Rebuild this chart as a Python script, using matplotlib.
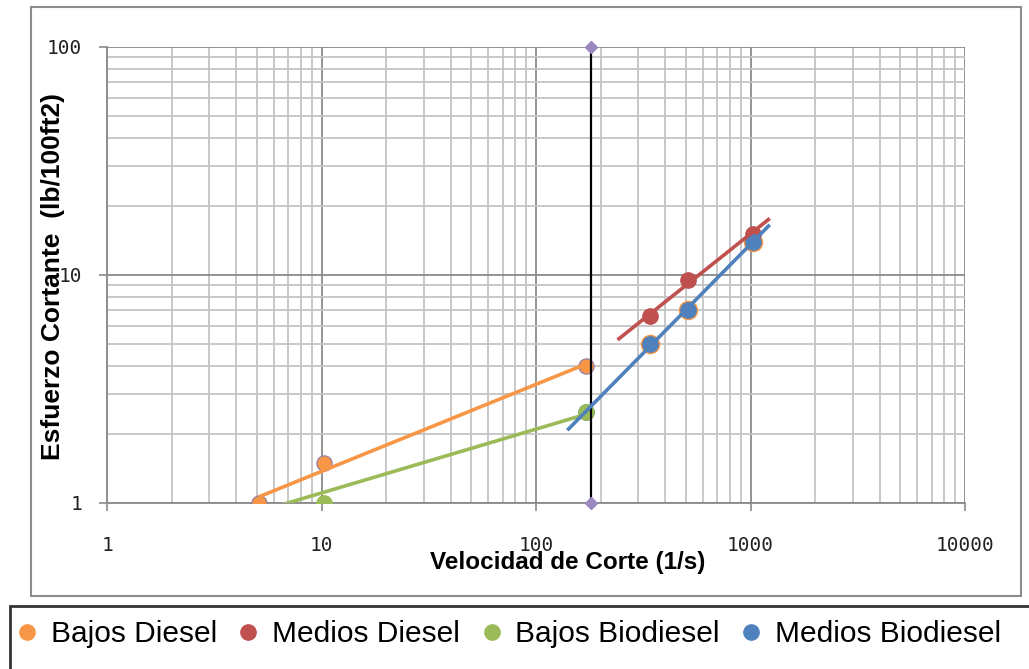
import numpy as np
import matplotlib.pyplot as plt
from matplotlib.lines import Line2D
from matplotlib.patches import Rectangle
from matplotlib.ticker import FixedLocator, FixedFormatter, NullFormatter

# datos (lecturas del viscosimetro)
bajos_diesel_x = [5.11, 10.22, 170.3]
bajos_diesel_y = [1.0, 1.5, 4.0]
bajos_diesel_extra_x = [340.6, 511.0, 1022.0]
bajos_diesel_extra_y = [5.0, 7.0, 14.0]

medios_diesel_x = [340.6, 511.0, 1022.0]
medios_diesel_y = [6.6, 9.5, 15.2]

bajos_bio_x = [5.11, 10.22, 170.3]
bajos_bio_y = [1.0, 1.0, 2.5]

medios_bio_x = [170.3, 340.6, 511.0, 1022.0]
medios_bio_y = [2.5, 5.0, 7.0, 14.0]

corte_x = [180.0, 180.0]
corte_y = [1.0, 100.0]

# rango de las lineas de tendencia
tend_bajos_diesel = [5.11, 170.3]
tend_medios_diesel = [240.0, 1230.0]
tend_bajos_bio = [5.11, 170.3]
tend_medios_bio = [140.0, 1230.0]

x_ticks = [1, 10, 100, 1000, 10000]
x_labels = ['1', '10', '100', '1000', '10000']
y_ticks = [1, 10, 100]
y_labels = ['1', '10', '100']

c_orange = '#F79646'
c_red = '#C0504D'
c_green = '#9BBB59'
c_blue = '#4F81BD'
c_purple = '#9A88C0'


def power_trend(x, y, rango):
    b, a = np.polyfit(np.log10(x), np.log10(y), 1)
    xs = np.logspace(np.log10(rango[0]), np.log10(rango[1]), 50)
    return xs, 10 ** (a + b * np.log10(xs))


fig = plt.figure(figsize=(10.29, 6.69), dpi=100)
W, H = 1029, 669
ax = fig.add_axes([107 / W, 1 - 503 / H, (965 - 107) / W, (503 - 47) / H])
ax.set_xscale('log')
ax.set_yscale('log')
ax.set_xlim(1, 10000)
ax.set_ylim(1, 100)

ax.grid(which='minor', color='#c4c4c4', lw=1.3, zorder=0)
ax.grid(which='major', color='#8a8a8a', lw=1.3, zorder=0)
ax.set_axisbelow(True)

ms = 11
ax.plot(bajos_diesel_extra_x, bajos_diesel_extra_y, 'o', color=c_orange, ms=ms + 2, zorder=3)
ax.plot(bajos_diesel_x, bajos_diesel_y, 'o', color=c_orange, ms=ms, mec='#8c7aae', mew=0.8, zorder=4)
ax.plot(medios_diesel_x, medios_diesel_y, 'o', color=c_red, ms=ms, zorder=4)
ax.plot(medios_bio_x, medios_bio_y, 'o', color=c_blue, ms=ms, zorder=4)
ax.plot(bajos_bio_x[1:], bajos_bio_y[1:], 'o', color=c_green, ms=ms, zorder=4)

ax.plot(corte_x, corte_y, color='black', lw=1.6, zorder=5, clip_on=False)
ax.plot(corte_x, corte_y, 'D', color=c_purple, ms=6, zorder=6, clip_on=False)

for x, y, r, c in [(bajos_diesel_x, bajos_diesel_y, tend_bajos_diesel, c_orange),
                   (medios_diesel_x, medios_diesel_y, tend_medios_diesel, c_red),
                   (bajos_bio_x, bajos_bio_y, tend_bajos_bio, c_green),
                   (medios_bio_x, medios_bio_y, tend_medios_bio, c_blue)]:
    xs, ys = power_trend(x, y, r)
    ax.plot(xs, ys, color=c, lw=2.6, zorder=5, solid_capstyle='butt')

ax.xaxis.set_major_locator(FixedLocator(x_ticks))
ax.xaxis.set_major_formatter(FixedFormatter(x_labels))
ax.yaxis.set_major_locator(FixedLocator(y_ticks))
ax.yaxis.set_major_formatter(FixedFormatter(y_labels))
ax.xaxis.set_minor_formatter(NullFormatter())
ax.yaxis.set_minor_formatter(NullFormatter())
ax.tick_params(which='major', direction='out', length=6, width=1.2, color='#8a8a8a',
               labelsize=14, labelcolor='#222222')
ax.tick_params(axis='x', which='major', pad=18)
ax.tick_params(axis='y', which='major', pad=12)
ax.tick_params(which='minor', length=0)
for lab in ax.get_xticklabels() + ax.get_yticklabels():
    lab.set_family('DejaVu Sans Mono')

for s in ['top', 'right']:
    ax.spines[s].set_visible(False)
for s in ['left', 'bottom']:
    ax.spines[s].set_color('#8a8a8a')
    ax.spines[s].set_linewidth(1.3)

ax.set_xlabel('Velocidad de Corte (1/s)', family='Liberation Sans', weight='bold',
              fontsize=17.5, va='center')
ax.xaxis.set_label_coords((568 - 107) / 858, (503 - 563) / 456)
ax.set_ylabel('Esfuerzo Cortante  (lb/100ft2)', family='Liberation Sans', weight='bold',
              fontsize=19, va='center')
ax.yaxis.set_label_coords((53 - 107) / 858, (503 - 276) / 456)

# marcos del grafico y de la leyenda
fig.patches.append(Rectangle((31 / W, 1 - 596 / H), (1021 - 31) / W, (596 - 7) / H,
                             transform=fig.transFigure, fill=False, ec='#8c8c8c', lw=1.5))
fig.patches.append(Rectangle((10 / W, -0.1), 1.1, 1 - 606 / H + 0.1,
                             transform=fig.transFigure, fill=False, ec='#333333', lw=2))

nombres = ['Bajos Diesel', 'Medios Diesel', 'Bajos Biodiesel', 'Medios Biodiesel']
colores = [c_orange, c_red, c_green, c_blue]
handles = [Line2D([], [], marker='o', ls='none', color=c, ms=11) for c in colores]
fig.legend(handles, nombres, loc='center left', bbox_to_anchor=(18 / W, 1 - 634 / H),
           ncol=4, frameon=False, borderpad=0, borderaxespad=0, handlelength=0.6,
           handletextpad=0.5, columnspacing=0.75,
           prop={'family': 'Liberation Sans', 'size': 21.5})

fig.savefig('out.png', dpi=100)
